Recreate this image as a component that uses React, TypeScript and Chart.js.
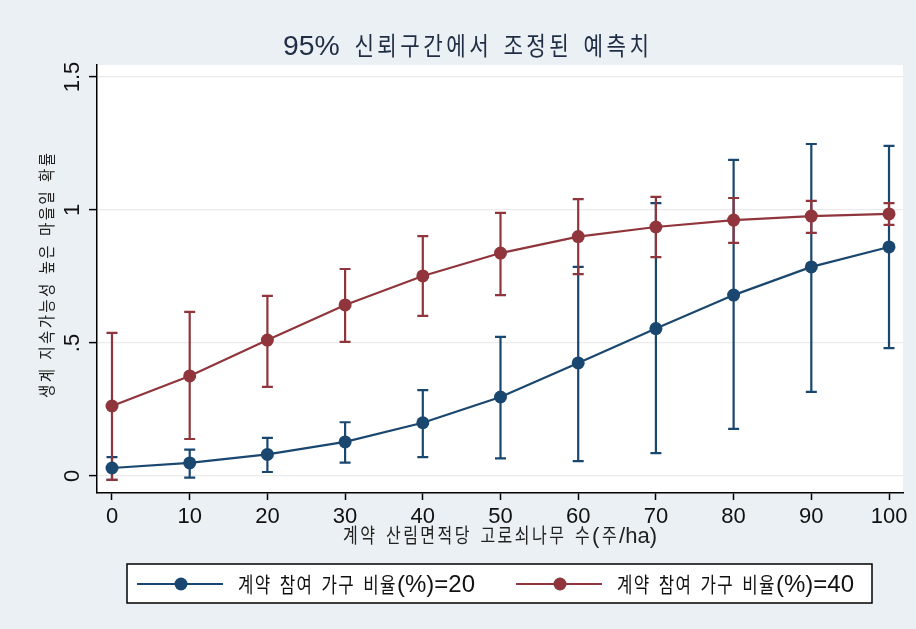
import React, { useEffect, useRef } from "react";
import { Chart, registerables } from "chart.js";

Chart.register(...registerables);

const titleText = "95% 신뢰구간에서 조정된 예측치";
const xTitle = "계약 산림면적당 고로쇠나무 수(주/ha)";
const yTitle = "생계 지속가능성 높은 마을일 확률";
const legendLabels = ["계약 참여 가구 비율(%)=20", "계약 참여 가구 비율(%)=40"];

const xValues = [0, 10, 20, 30, 40, 50, 60, 70, 80, 90, 100];
const xTicks = [0, 10, 20, 30, 40, 50, 60, 70, 80, 90, 100];
const yTicks = [0, 0.5, 1, 1.5];
const yTickLabels = ["0", ".5", "1", "1.5"];

const blue = [0.03, 0.049, 0.081, 0.128, 0.2, 0.297, 0.425, 0.554, 0.68, 0.786, 0.861];
const blueLo = [-0.015, -0.006, 0.015, 0.05, 0.071, 0.066, 0.056, 0.086, 0.177, 0.316, 0.481];
const blueHi = [0.071, 0.099, 0.143, 0.202, 0.323, 0.523, 0.786, 1.026, 1.188, 1.248, 1.241];

const red = [0.263, 0.376, 0.511, 0.643, 0.752, 0.838, 0.9, 0.936, 0.962, 0.977, 0.985];
const redLo = [-0.015, 0.139, 0.335, 0.504, 0.602, 0.68, 0.759, 0.823, 0.876, 0.914, 0.944];
const redHi = [0.538, 0.617, 0.677, 0.778, 0.902, 0.989, 1.041, 1.049, 1.045, 1.034, 1.026];

const BLUE = "#1a476f";
const RED = "#90353b";
const BG = "#eaf0f3";
const FONT = "'Liberation Sans', Arial, sans-serif";
const HFONT = "'Noto Sans CJK KR', sans-serif";
const LFONT = "'Liberation Sans', Arial, sans-serif";

function drawRuns(
  ctx: CanvasRenderingContext2D,
  text: string,
  x: number,
  y: number,
  width: number,
  hSize: number,
  lSize: number,
  k: number,
  lk: number
) {
  const chars = Array.from(text);
  const isH = chars.map((c) => /[\u3131-\uD7A3]/.test(c));
  const latin = chars.map((c, i) => !isH[i] && c !== " ");
  const fonts = chars.map((c, i) => (isH[i] ? hSize + "px " + HFONT : lSize + "px " + LFONT));
  const scales = chars.map((c, i) => (isH[i] ? k : lk));
  const widths = chars.map((c, i) => {
    ctx.font = fonts[i];
    return ctx.measureText(c).width * scales[i];
  });
  const total = widths.reduce((a, b) => a + b, 0);
  let slots = 0;
  for (let i = 0; i < chars.length - 1; i++) if (!(latin[i] && latin[i + 1])) slots++;
  const sp = slots > 0 ? (width - total) / slots : 0;
  ctx.textAlign = "left";
  ctx.textBaseline = "alphabetic";
  let cx = x;
  chars.forEach((c, i) => {
    ctx.font = fonts[i];
    ctx.save();
    ctx.translate(cx, y);
    ctx.scale(scales[i], 1);
    ctx.fillText(c, 0, 0);
    ctx.restore();
    cx += widths[i];
    if (i < chars.length - 1 && !(latin[i] && latin[i + 1])) cx += sp;
  });
}

const decorPlugin = {
  id: "decor",
  beforeDraw(chart: any) {
    const ctx = chart.ctx;
    const { left, right, top, bottom } = chart.chartArea;
    ctx.save();
    ctx.fillStyle = BG;
    ctx.fillRect(0, 0, chart.width, chart.height);
    ctx.fillStyle = "#ffffff";
    ctx.fillRect(left, top, right - left, bottom - top);
    ctx.restore();
  },
  beforeDatasetsDraw(chart: any) {
    const ctx = chart.ctx;
    const xs = chart.scales.x;
    const ys = chart.scales.y;
    const sets = [
      { lo: blueLo, hi: blueHi, color: BLUE },
      { lo: redLo, hi: redHi, color: RED },
    ];
    ctx.save();
    ctx.lineWidth = 2.2;
    sets.forEach((s) => {
      ctx.strokeStyle = s.color;
      xValues.forEach((xv, i) => {
        const px = xs.getPixelForValue(xv);
        const y1 = ys.getPixelForValue(s.lo[i]);
        const y2 = ys.getPixelForValue(s.hi[i]);
        ctx.beginPath();
        ctx.moveTo(px, y1);
        ctx.lineTo(px, y2);
        ctx.moveTo(px - 5.5, y1);
        ctx.lineTo(px + 5.5, y1);
        ctx.moveTo(px - 5.5, y2);
        ctx.lineTo(px + 5.5, y2);
        ctx.stroke();
      });
    });
    ctx.restore();
  },
  afterDraw(chart: any) {
    const ctx = chart.ctx;
    const ys = chart.scales.y;
    ctx.save();
    // title
    ctx.fillStyle = "#1f2d45";
    drawRuns(ctx, titleText, 283, 55, 366, 25, 27, 0.85, 1.05);
    // y tick labels
    ctx.fillStyle = "#111";
    ctx.font = "22px " + FONT;
    yTicks.forEach((v, i) => {
      const py = ys.getPixelForValue(v);
      ctx.save();
      ctx.translate(79, py);
      ctx.rotate(-Math.PI / 2);
      ctx.textAlign = "center";
      ctx.textBaseline = "alphabetic";
      ctx.fillText(yTickLabels[i], 0, 0);
      ctx.restore();
    });
    // y title
    ctx.save();
    ctx.fillStyle = "#222";
    ctx.translate(53, 398);
    ctx.rotate(-Math.PI / 2);
    drawRuns(ctx, yTitle, 0, 0, 245, 17, 17, 0.85, 1);
    ctx.restore();
    // x title
    ctx.fillStyle = "#222";
    drawRuns(ctx, xTitle, 343, 543, 314, 20, 22, 0.8, 1);
    // legend
    ctx.fillStyle = "#ffffff";
    ctx.fillRect(127, 564, 745, 39);
    ctx.strokeStyle = "#000";
    ctx.lineWidth = 1.5;
    ctx.strokeRect(127, 564, 745, 39);
    const items = [
      { x0: 137, color: BLUE, tx: 238, label: legendLabels[0] },
      { x0: 516, color: RED, tx: 617, label: legendLabels[1] },
    ];
    items.forEach((it) => {
      ctx.strokeStyle = it.color;
      ctx.lineWidth = 2.2;
      ctx.beginPath();
      ctx.moveTo(it.x0, 584);
      ctx.lineTo(it.x0 + 86, 584);
      ctx.stroke();
      ctx.fillStyle = it.color;
      ctx.beginPath();
      ctx.arc(it.x0 + 44, 584, 6.5, 0, Math.PI * 2);
      ctx.fill();
      ctx.fillStyle = "#111";
      drawRuns(ctx, it.label, it.tx, 592, 237, 21, 24, 0.8, 1);
    });
    ctx.restore();
  },
};

export default function App() {
  const ref = useRef<HTMLCanvasElement | null>(null);
  useEffect(() => {
    document.body.style.margin = "0";
    const canvas = ref.current!;
    const chart = new Chart(canvas, {
      type: "line",
      data: {
        datasets: [
          {
            label: legendLabels[0],
            data: xValues.map((x, i) => ({ x, y: blue[i] })),
            borderColor: BLUE,
            backgroundColor: BLUE,
            borderWidth: 2.2,
            pointRadius: 6.5,
            pointBorderWidth: 0,
            tension: 0,
          },
          {
            label: legendLabels[1],
            data: xValues.map((x, i) => ({ x, y: red[i] })),
            borderColor: RED,
            backgroundColor: RED,
            borderWidth: 2.2,
            pointRadius: 6.5,
            pointBorderWidth: 0,
            tension: 0,
          },
        ],
      },
      options: {
        animation: false,
        responsive: false,
        devicePixelRatio: 1,
        layout: { padding: { top: 65, right: 13, left: 0, bottom: 0 } },
        plugins: {
          legend: { display: false },
          title: { display: false },
          tooltip: { enabled: false },
        },
        scales: {
          x: {
            type: "linear",
            min: -1.93,
            max: 101.8,
            afterBuildTicks: (s: any) => {
              s.ticks = xTicks.map((v) => ({ value: v }));
            },
            afterFit: (s: any) => {
              s.height = 136;
            },
            ticks: {
              color: "#111",
              font: { size: 22, family: FONT },
              padding: 4,
              maxRotation: 0,
              minRotation: 0,
              callback: (v: any) => String(v),
            },
            grid: { drawOnChartArea: false, tickLength: 7, tickColor: "#000", tickWidth: 1.5 },
            border: { display: true, color: "#000", width: 1.5 },
          },
          y: {
            type: "linear",
            min: -0.064,
            max: 1.545,
            afterBuildTicks: (s: any) => {
              s.ticks = yTicks.map((v) => ({ value: v }));
            },
            afterFit: (s: any) => {
              s.width = 97;
            },
            ticks: { display: false },
            grid: { color: "#ebebeb", lineWidth: 1.2, tickLength: 8, tickColor: "#000", tickWidth: 1.5 },
            border: { display: true, color: "#000", width: 1.5 },
          },
        },
      },
      plugins: [decorPlugin],
    });
    return () => chart.destroy();
  }, []);
  return (
    <div style={{ width: 916, height: 629, background: BG }}>
      <canvas ref={ref} width={916} height={629} style={{ display: "block" }} />
    </div>
  );
}
